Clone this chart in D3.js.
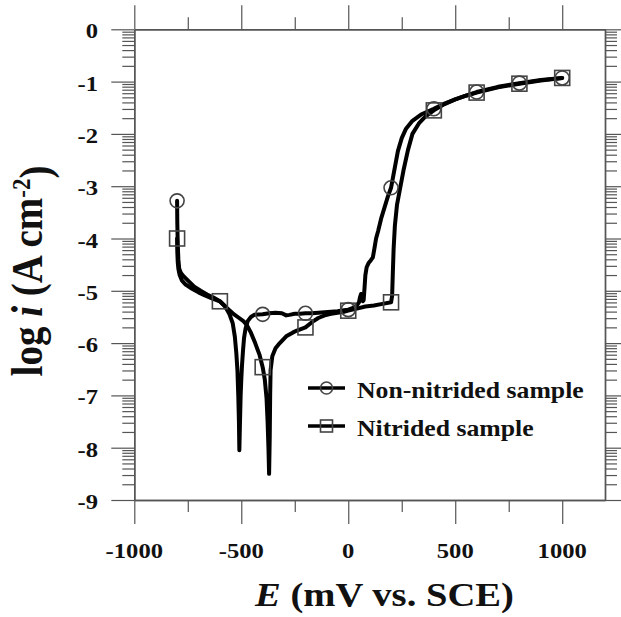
<!DOCTYPE html>
<html>
<head>
<meta charset="utf-8">
<script src="https://cdn.jsdelivr.net/npm/d3@7"></script>
<style>
  html, body { margin: 0; padding: 0; background: #fff; }
  text { font-family: "Liberation Serif", "Times New Roman", serif; font-weight: bold; fill: #111; }
</style>
</head>
<body>
<svg id="svg1"></svg>
<script>
// data: E in mV vs SCE, log i in A cm-2
var nonNitE = [-800,-799,-797,-794,-790,-782,-770,-750,-720,-690,-660,-630,-600,-575,-555,-540,-530,-523,-518,-514,-511,-509,
  -506,-503,-500,-497,-492,-487,-480,-470,-455,-440,-400,-370,-340,-310,-290,-275,-250,-225,-200,-170,-140,-110,-80,-50,-20,0,
  20,40,50,55,60,64,68,72,76,80,86,95,105,115,122,130,140,155,170,185,200,215,232,250,270,300,340,400,450,500,550,600,700,800,900,1000];
var nonNitLog = [-3.28,-3.7,-4.1,-4.4,-4.58,-4.66,-4.72,-4.8,-4.92,-5.0,-5.07,-5.13,-5.2,-5.3,-5.45,-5.62,-5.88,-6.2,-6.52,-7.0,-7.5,-8.05,
  -7.5,-7.0,-6.7,-6.45,-6.15,-5.9,-5.72,-5.58,-5.5,-5.46,-5.45,-5.43,-5.42,-5.43,-5.47,-5.46,-5.44,-5.44,-5.43,-5.43,-5.42,-5.41,-5.4,-5.39,-5.37,-5.36,
  -5.33,-5.28,-5.22,-5.12,-5.06,-5.1,-5.2,-5.18,-4.95,-4.7,-4.55,-4.47,-4.42,-4.36,-4.2,-4.0,-3.85,-3.6,-3.4,-3.2,-3.03,-2.7,-2.33,-2.08,-1.9,-1.75,-1.63,-1.52,-1.42,-1.34,-1.27,-1.2,-1.1,-1.03,-0.97,-0.93];

var nitE = [-800,-799,-797,-794,-788,-778,-760,-730,-700,-670,-640,-600,-570,-540,-510,-490,-475,-455,-435,-415,-400,-390,-382,-377,-373,-370,
  -367,-365,-363,-355,-340,-320,-290,-260,-240,-200,-170,-140,-110,-80,-50,-20,0,40,80,120,160,200,
  205,208,212,218,228,241,258,279,300,330,360,400,450,500,550,600,700,800,900,1000];
var nitLog = [-4.0,-4.25,-4.45,-4.58,-4.7,-4.8,-4.88,-4.96,-5.03,-5.09,-5.14,-5.2,-5.32,-5.43,-5.52,-5.58,-5.65,-5.8,-6.0,-6.22,-6.46,-6.7,-7.05,-7.5,-8.0,-8.5,
  -7.8,-7.0,-6.52,-6.25,-6.1,-6.0,-5.87,-5.8,-5.76,-5.7,-5.6,-5.52,-5.47,-5.44,-5.42,-5.4,-5.38,-5.34,-5.3,-5.28,-5.25,-5.22,
  -5.1,-4.7,-4.2,-3.75,-3.35,-3.07,-2.7,-2.31,-2.0,-1.8,-1.67,-1.55,-1.43,-1.34,-1.27,-1.21,-1.11,-1.04,-0.98,-0.93];

var nonNitMarkE = [-800,-400,-200,0,200,400,600,800,1000];
var nonNitMarkLog = [-3.28,-5.45,-5.43,-5.36,-3.03,-1.52,-1.2,-1.03,-0.93];
var nitMarkE = [-800,-600,-400,-200,0,200,400,600,800,1000];
var nitMarkLog = [-4.0,-5.2,-6.46,-5.7,-5.38,-5.22,-1.55,-1.21,-1.04,-0.93];

var xMajor = [-1000,-500,0,500,1000];
var xMinor = [-750,-250,250,750];
var yMajor = [0,-1,-2,-3,-4,-5,-6,-7,-8,-9];
var legendNames = ["Non-nitrided sample", "Nitrided sample"];

var W = 621, H = 617;
var plot = {left: 134.3, right: 605, top: 29.3, bottom: 500};
var sx = 1.12; // the picture is slightly stretched sideways

var svg = d3.select("#svg1").attr("width", W).attr("height", H);
svg.append("rect").attr("width", W).attr("height", H).attr("fill", "#fff");

var x = d3.scaleLinear().domain([-1000, 1200]).range([plot.left, plot.right]);
var y = d3.scaleLinear().domain([-9, 0]).range([plot.bottom, plot.top]);

// log style minor ticks on the y axis
var yMinor = [];
yMajor.forEach(function(n){
  if (n < 0) for (var k = 2; k <= 9; k++) yMinor.push(n + Math.log10(k));
});

function styleAxis(g){
  g.selectAll("path").attr("stroke", "#555").attr("stroke-width", 1.4);
  g.selectAll("line").attr("stroke", "#555").attr("stroke-width", 1.2);
  g.selectAll("text").remove();
}

// bottom
svg.append("g").attr("transform", `translate(0,${plot.bottom})`)
  .call(d3.axisBottom(x).tickValues(xMajor).tickSize(24).tickSizeOuter(0)).call(styleAxis);
svg.append("g").attr("transform", `translate(0,${plot.bottom})`)
  .call(d3.axisBottom(x).tickValues(xMinor).tickSize(12).tickSizeOuter(0)).call(styleAxis);
// top
svg.append("g").attr("transform", `translate(0,${plot.top})`)
  .call(d3.axisTop(x).tickValues(xMajor).tickSize(24).tickSizeOuter(0)).call(styleAxis);
svg.append("g").attr("transform", `translate(0,${plot.top})`)
  .call(d3.axisTop(x).tickValues(xMinor).tickSize(12).tickSizeOuter(0)).call(styleAxis);
// left
svg.append("g").attr("transform", `translate(${plot.left},0)`)
  .call(d3.axisLeft(y).tickValues(yMajor).tickSize(23).tickSizeOuter(0)).call(styleAxis);
svg.append("g").attr("transform", `translate(${plot.left},0)`)
  .call(d3.axisLeft(y).tickValues(yMinor).tickSize(12).tickSizeOuter(0)).call(styleAxis);
// right
svg.append("g").attr("transform", `translate(${plot.right},0)`)
  .call(d3.axisRight(y).tickValues(yMajor).tickSize(23).tickSizeOuter(0)).call(styleAxis);
svg.append("g").attr("transform", `translate(${plot.right},0)`)
  .call(d3.axisRight(y).tickValues(yMinor).tickSize(12).tickSizeOuter(0)).call(styleAxis);

// tick labels
svg.selectAll(".xlab").data(xMajor).enter().append("text")
  .attr("class", "xlab")
  .attr("transform", d => `translate(${x(d)},558) scale(${sx},1)`)
  .attr("text-anchor", "middle")
  .style("font-size", "22px")
  .text(d => d);

svg.selectAll(".ylab").data(yMajor).enter().append("text")
  .attr("class", "ylab")
  .attr("transform", d => `translate(98,${y(d) + 9}) scale(${sx},1)`)
  .attr("text-anchor", "end")
  .style("font-size", "22px")
  .text(d => d);

// axis titles
var xt = svg.append("text")
  .attr("transform", `translate(255,606) scale(${sx},1)`)
  .style("font-size", "34.5px");
xt.append("tspan").style("font-style", "italic").text("E");
xt.append("tspan").text(" (mV vs. SCE)");

var yt = svg.append("text")
  .attr("transform", `translate(42,271) scale(${sx},1) rotate(-90)`)
  .attr("text-anchor", "middle")
  .style("font-size", "39px");
yt.append("tspan").text("log ");
yt.append("tspan").style("font-style", "italic").text("i");
yt.append("tspan").text(" (A cm");
yt.append("tspan").attr("dy", "-0.45em").style("font-size", "23px").text("-2");
yt.append("tspan").attr("dy", "0.45em").text(")");

// curves
var line = d3.line().x(d => x(d[0])).y(d => y(d[1]));
var nonNit = nonNitE.map((e, i) => [e, nonNitLog[i]]);
var nit = nitE.map((e, i) => [e, nitLog[i]]);

[nonNit, nit].forEach(function(s){
  svg.append("path")
    .datum(s)
    .attr("d", line)
    .attr("fill", "none")
    .attr("stroke", "#000")
    .attr("stroke-width", 4)
    .attr("stroke-linejoin", "round")
    .attr("stroke-linecap", "round");
});

// markers
svg.selectAll(".mc").data(nonNitMarkE).enter().append("circle")
  .attr("class", "mc")
  .attr("cx", d => x(d))
  .attr("cy", (d, i) => y(nonNitMarkLog[i]))
  .attr("r", 7)
  .attr("fill", "none")
  .attr("stroke", "#444")
  .attr("stroke-width", 1.6);

svg.selectAll(".ms").data(nitMarkE).enter().append("rect")
  .attr("class", "ms")
  .attr("x", d => x(d) - 7.5)
  .attr("y", (d, i) => y(nitMarkLog[i]) - 7.5)
  .attr("width", 15)
  .attr("height", 15)
  .attr("fill", "none")
  .attr("stroke", "#444")
  .attr("stroke-width", 1.6);

// legend
var leg = svg.selectAll(".leg").data(legendNames).enter().append("g")
  .attr("class", "leg")
  .attr("transform", (d, i) => `translate(308,${388 + i * 38})`);
leg.append("line")
  .attr("x1", 0).attr("x2", 37).attr("y1", 0).attr("y2", 0)
  .attr("stroke", "#000").attr("stroke-width", 3.5);
leg.filter((d, i) => i === 0).append("circle")
  .attr("cx", 18.5).attr("cy", 0).attr("r", 6)
  .attr("fill", "none").attr("stroke", "#444").attr("stroke-width", 1.6);
leg.filter((d, i) => i === 1).append("rect")
  .attr("x", 12.5).attr("y", -6).attr("width", 12).attr("height", 12)
  .attr("fill", "none").attr("stroke", "#444").attr("stroke-width", 1.6);
leg.append("text")
  .attr("transform", `translate(49,10) scale(${sx},1)`)
  .style("font-size", "23px")
  .text(d => d);
</script>
</body>
</html>
